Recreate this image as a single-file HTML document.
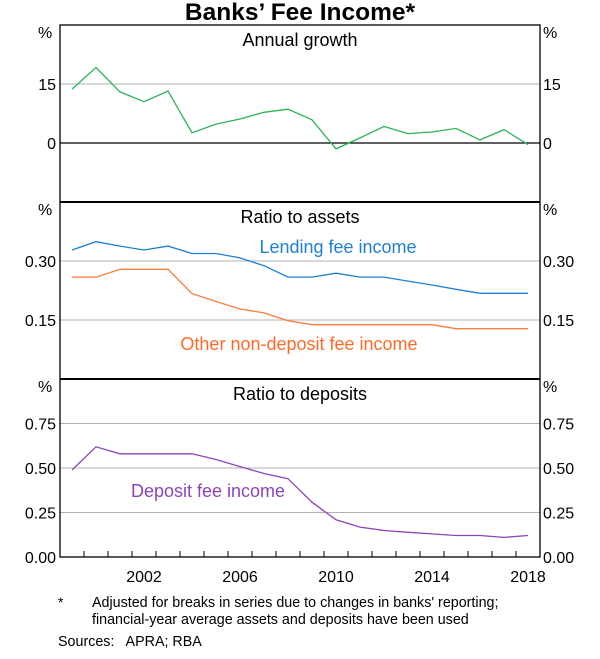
<!DOCTYPE html>
<html><head><meta charset="utf-8"><style>
body{margin:0;background:#fff;font-family:"Liberation Sans",Arial,sans-serif;}
svg text{font-family:"Liberation Sans",Arial,sans-serif;}
</style></head><body>
<svg id="c" width="600" height="654" xmlns="http://www.w3.org/2000/svg">
<text x="300" y="20" text-anchor="middle" font-size="24.5" font-weight="bold">Banks’ Fee Income*</text>
<g id="g"></g>
<text x="58" y="607" font-size="14">*</text>
<text x="92" y="607" font-size="14.3">Adjusted for breaks in series due to changes in banks' reporting;</text>
<text x="92" y="624" font-size="14.3">financial-year average assets and deposits have been used</text>
<text x="58" y="646" font-size="14.3" xml:space="preserve">Sources:   APRA; RBA</text>
</svg>
<script>
const years=[1999,2000,2001,2002,2003,2004,2005,2006,2007,2008,2009,2010,2011,2012,2013,2014,2015,2016,2017,2018];
const growth=[13.7,19.2,13.0,10.5,13.2,2.6,4.8,6.1,7.8,8.6,5.9,-1.5,1.3,4.2,2.4,2.8,3.7,0.8,3.4,-0.4];
const lending=[0.328,0.349,0.338,0.328,0.338,0.319,0.319,0.308,0.288,0.259,0.259,0.269,0.259,0.259,0.249,0.239,0.228,0.218,0.218,0.218];
const otherFee=[0.259,0.259,0.279,0.279,0.279,0.217,0.197,0.178,0.168,0.148,0.138,0.138,0.138,0.138,0.138,0.138,0.128,0.128,0.128,0.128];
const deposit=[0.489,0.619,0.580,0.580,0.580,0.580,0.548,0.508,0.469,0.440,0.308,0.209,0.168,0.149,0.139,0.130,0.121,0.121,0.110,0.121];
const xLabels=[2002,2006,2010,2014,2018];
const ticks1=[15,0],ticks2=[0.30,0.15],ticks3=[0.75,0.50,0.25,0.00];
const NS='http://www.w3.org/2000/svg';
const g=document.getElementById('g');
const L=60,R=540;
function x(yr){return L+(yr-1999+0.5)*24;}
function mk(t,a,p){const e=document.createElementNS(NS,t);for(const k in a)e.setAttribute(k,a[k]);(p||g).appendChild(e);return e;}
const panels=[
 {top:25,bot:202,min:-15,max:30,ticks:ticks1,fmt:v=>String(v),title:'Annual growth',name:'growth'},
 {top:202,bot:379,min:0,max:0.45,ticks:ticks2,fmt:v=>v.toFixed(2),title:'Ratio to assets',name:'assets'},
 {top:379,bot:557,min:0,max:1,ticks:ticks3,fmt:v=>v.toFixed(2),title:'Ratio to deposits',name:'deposits'}];
panels.forEach(p=>{p.y=v=>p.bot-(v-p.min)/(p.max-p.min)*(p.bot-p.top);});
panels.forEach(p=>{
 p.ticks.forEach(v=>{
  const yy=p.y(v);
  if(v!==0){const l=mk('line',{x1:L,x2:R,y1:yy,y2:yy,stroke:'#b0b0b0','stroke-width':1});
   
   }
  const t1=mk('text',{x:56,y:yy+6,'text-anchor':'end','font-size':16});t1.textContent=p.fmt(v);
  
  
  const t2=mk('text',{x:543,y:yy+6,'font-size':16});t2.textContent=p.fmt(v);
  
  
 });
 const u1=mk('text',{x:38,y:p.top+13,'font-size':16});u1.textContent='%';
 
 
 const u2=mk('text',{x:543,y:p.top+13,'font-size':16});u2.textContent='%';
 
 
 const tt=mk('text',{x:300,y:p.top+21,'text-anchor':'middle','font-size':18});tt.textContent=p.title;
 
 
});
const zl=mk('line',{x1:L,x2:R,y1:panels[0].y(0),y2:panels[0].y(0),stroke:'#000','stroke-width':1.3});


function line(arr,p,col,name){
 const d=arr.map((v,i)=>(i?'L':'M')+x(years[i]).toFixed(1)+' '+p.y(v).toFixed(1)).join(' ');
 const e=mk('path',{d:d,fill:'none',stroke:col,'stroke-width':1.3});
 
 
}
line(growth,panels[0],'#2db35a','growth-line');
line(lending,panels[1],'#1f7fd6','lending-fee-line');
line(otherFee,panels[1],'#ff7a3d','other-fee-line');
line(deposit,panels[2],'#8b45bb','deposit-fee-line');
function lab(tx,xx,yy,col,name){const t=mk('text',{x:xx,y:yy,'font-size':18,fill:col,'text-anchor':'middle'});t.textContent=tx;
 
 }
lab('Lending fee income',338,253,'#1f7fd6','lending-label');
lab('Other non-deposit fee income',299,350,'#ff6a2a','other-label');
lab('Deposit fee income',208,497,'#8b45bb','deposit-label');
const fr=mk('rect',{x:L,y:25,width:R-L,height:532,fill:'none',stroke:'#000','stroke-width':1.3});


[202,379].forEach(yy=>{const d=mk('line',{x1:L,x2:R,y1:yy,y2:yy,stroke:'#000','stroke-width':2});
 
 });
for(let i=1;i<20;i++){const xx=L+i*24;const t=mk('line',{x1:xx,x2:xx,y1:551,y2:557,stroke:'#000','stroke-width':1});
 
 }
xLabels.forEach(yr=>{const t=mk('text',{x:x(yr),y:582,'text-anchor':'middle','font-size':16});t.textContent=yr;
 
 });
</script>
</body></html>
